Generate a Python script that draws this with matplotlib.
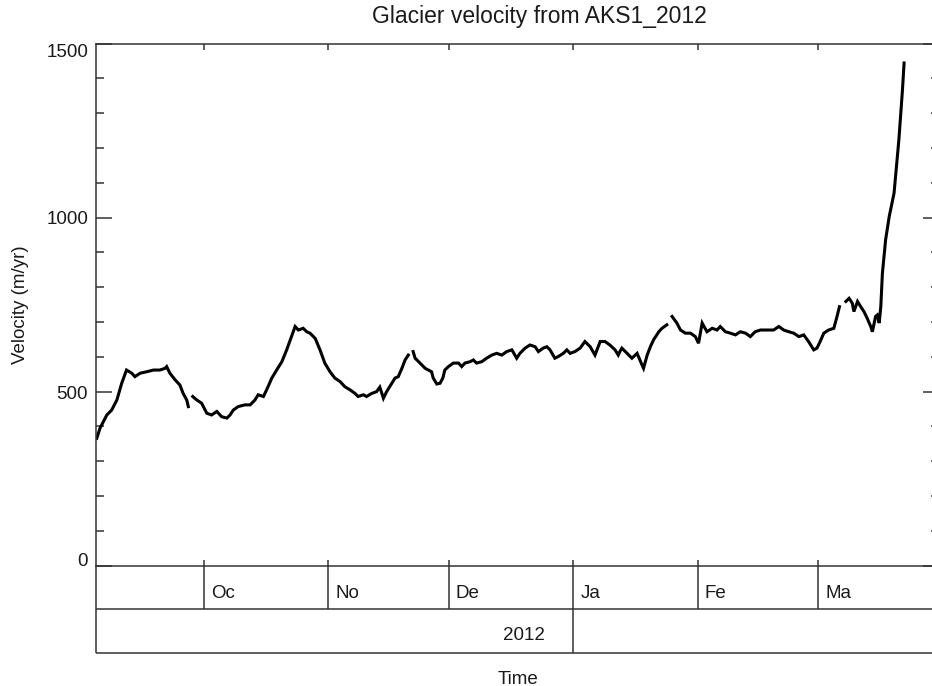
import numpy as np
import matplotlib
matplotlib.use("Agg")
import matplotlib.pyplot as plt
from matplotlib.transforms import blended_transform_factory, ScaledTranslation

plt.rcParams['font.family'] = ['Liberation Sans', 'DejaVu Sans']

# ---- data: days since 2012-09-01 and velocity (m/yr); nan marks data gaps ----
nan = np.nan
days = [3.3, 4.1, 5.8, 7.0, 8.3, 9.5, 10.7, 12.0, 12.8, 14.1, 15.7, 17.4, 19.0, 20.3, 20.7,
        21.5, 22.8, 24.0, 24.8, 25.7, 26.1, nan,
        27.2, 28.2, 29.4, 30.7, 31.9, 33.2, 34.4, 35.7, 36.5, 37.3, 38.5, 40.2, 41.5, 42.7,
        43.5, 44.8, 45.6, 46.9, 48.1, 49.4, 50.6, 51.8, 52.7, 53.5, 54.7, 55.6, 56.4, 57.7,
        58.9, 60.1, 61.4, 62.6, 63.9, 65.1, 66.4, 67.6, 68.4, 69.7, 70.5, 71.8, 73.0, 73.8,
        74.7, 75.5, 76.8, 77.6, 78.4, 79.3, 80.1, 80.9, nan,
        82.1, 82.6, 83.8, 85.1, 85.9, 86.7, 87.1, 88.0, 88.8, 89.5, 90.0, 90.9, 92.1, 93.4,
        94.2, 95.0, 96.3, 97.1, 97.9, 99.2, 100.4, 101.7, 102.9, 104.2, 105.4, 106.7, 107.9,
        108.7, 110.0, 111.2, 112.5, 113.3, 114.5, 115.4, 116.2, 117.4, 118.3, 119.5, 120.4,
        121.2, 122.4, 123.7, 124.9, 126.2, 127.4, 128.7, 129.9, 131.1, 132.4, 133.2, 133.6,
        134.1, 135.4, 136.6, 137.9, 139.1, 139.5, 140.4, 141.2, 142.0, 143.3, 144.1, 145.3, nan,
        146.6, 147.8, 148.7, 149.9, 151.2, 152.4, 153.2, 154.1, 155.3, 156.6, 157.8, 158.6,
        159.9, 161.1, 162.4, 163.6, 164.9, 166.1, 167.3, 168.6, 170.3, 171.9, 173.2, 174.4,
        175.7, 176.9, 178.2, 179.4, 180.6, 181.9, 182.7, 183.5, 184.4, 185.6, 186.9, 187.7,
        188.3, nan,
        189.9, 190.7, 191.5, 191.9, 192.8, 193.6, 194.4, 195.2, 196.1, 196.5, 197.3, 197.7,
        198.2, 198.6, 199.0, 199.8, 200.7, 201.9, 203.1, 204.0, 204.4]
velocity = [366, 395, 433, 447, 476, 524, 562, 553, 543, 553, 557, 562, 562, 567, 572,
            553, 534, 519, 495, 476, 457, nan,
            486, 476, 467, 438, 433, 443, 428, 424, 433, 447, 457, 462, 462, 476,
            491, 486, 505, 539, 562, 586, 620, 658, 687, 677, 682, 672, 668, 653,
            620, 582, 557, 539, 529, 514, 505, 495, 486, 491, 486, 495, 500, 513,
            481, 500, 524, 539, 543, 567, 591, 605, nan,
            615, 596, 582, 567, 562, 557, 539, 522, 524, 539, 562, 572, 582, 582,
            572, 582, 586, 591, 582, 586, 596, 605, 610, 605, 615, 620, 596,
            610, 625, 634, 629, 615, 625, 629, 620, 596, 601, 610, 620,
            610, 615, 625, 644, 629, 605, 644, 644, 634, 620, 605, 615,
            625, 610, 596, 610, 577, 567, 605, 629, 649, 672, 682, 692, nan,
            716, 697, 677, 668, 668, 658, 639, 697, 672, 682, 677, 687,
            672, 668, 663, 672, 668, 658, 672, 677, 677, 677, 687, 677,
            672, 668, 658, 663, 644, 620, 625, 644, 668, 677, 682, 716,
            744, nan,
            759, 768, 754, 730, 759, 744, 730, 711, 687, 672, 716, 720,
            697, 744, 840, 936, 1003, 1070, 1223, 1367, 1444]

month_starts = [30, 61, 91, 122, 153, 183]
month_labels = ['Oc', 'No', 'De', 'Ja', 'Fe', 'Ma']
year_ends = [122]
year_labels = ['2012']
yticks = [0, 500, 1000, 1500]
xlim = (3.1, 213.1)

# ---- figure ----
W, H = 932, 686
fig = plt.figure(figsize=(W / 100, H / 100), dpi=100)
ax_left, ax_right, ax_top, ax_bot = 96, 939, 43.5, 565.7   # pixels
ax = fig.add_axes([ax_left / W, 1 - ax_bot / H, (ax_right - ax_left) / W, (ax_bot - ax_top) / H])
axh = ax_bot - ax_top

def fy(py):  # pixel y -> axes fraction
    return (ax_bot - py) / axh

spine_c = '#333333'
text_c = '#1a1a1a'
fs = 13.5

ax.plot(days, velocity, color='black', lw=2.2, solid_joinstyle='miter')
ax.set_xlim(*xlim)
ax.set_ylim(0, 1500)

for s in ax.spines.values():
    s.set_color(spine_c)
    s.set_linewidth(1.1)

ax.set_yticks(yticks)
ax.set_yticks(np.arange(0, 1501, 100), minor=True)
ax.tick_params(axis='y', which='major', direction='in', length=11.5, width=1.1,
               color=spine_c, left=True, right=True, labelleft=False)
ax.tick_params(axis='y', which='minor', direction='in', length=5.8, width=1.1,
               color=spine_c, left=True, right=True)
ax.set_xticks(month_starts)
ax.set_xticks([], minor=True)
ax.tick_params(axis='x', which='major', direction='in', length=4, width=1.1,
               color=spine_c, top=True, bottom=True, labelbottom=False)

# y tick labels
ytr = blended_transform_factory(ax.transAxes, ax.transData)
yoffs = {0: -4, 500: 3, 1000: 2, 1500: 9}
for v in yticks:
    off = ScaledTranslation(-8 / 100, -yoffs[v] / 100, fig.dpi_scale_trans)
    ax.text(0, v, str(v), transform=ytr + off, ha='right', va='center',
            fontsize=fs, color=text_c)

# date box axis below
xtr = blended_transform_factory(ax.transData, ax.transAxes)
y_row1 = fy(609.3)
y_row2 = fy(652.7)
lkw = dict(color=spine_c, lw=1.1, clip_on=False, solid_capstyle='butt')
ax.plot([0, 1], [y_row1, y_row1], transform=ax.transAxes, **lkw)
ax.plot([0, 1], [y_row2, y_row2], transform=ax.transAxes, **lkw)
ax.plot([0, 0], [0, y_row2], transform=ax.transAxes, **lkw)
ax.plot([1, 1], [0, y_row2], transform=ax.transAxes, **lkw)
for m, lab in zip(month_starts, month_labels):
    ax.plot([m, m], [0, y_row1], transform=xtr, **lkw)
    ax.text(m, fy(593), lab, transform=xtr + ScaledTranslation(7 / 100, 0, fig.dpi_scale_trans),
            ha='left', va='center', fontsize=fs, color=text_c)
for ye, lab in zip(year_ends, year_labels):
    ax.plot([ye, ye], [y_row1, y_row2], transform=xtr, **lkw)
    ax.text(ye, fy(635.5), lab, transform=xtr + ScaledTranslation(-28 / 100, 0, fig.dpi_scale_trans),
            ha='right', va='center', fontsize=fs, color=text_c)

ax.text(0.5, fy(679), 'Time', transform=ax.transAxes, ha='center', va='center',
        fontsize=fs, color=text_c)
fig.text(21 / W, 1 - 305 / H, 'Velocity (m/yr)', rotation=90, ha='center', va='center',
         fontsize=fs, color=text_c)
fig.text(539 / W, 1 - 17 / H, 'Glacier velocity from AKS1_2012', ha='center', va='center',
         fontsize=16.5, color=text_c)

fig.savefig('out.png', dpi=100)
